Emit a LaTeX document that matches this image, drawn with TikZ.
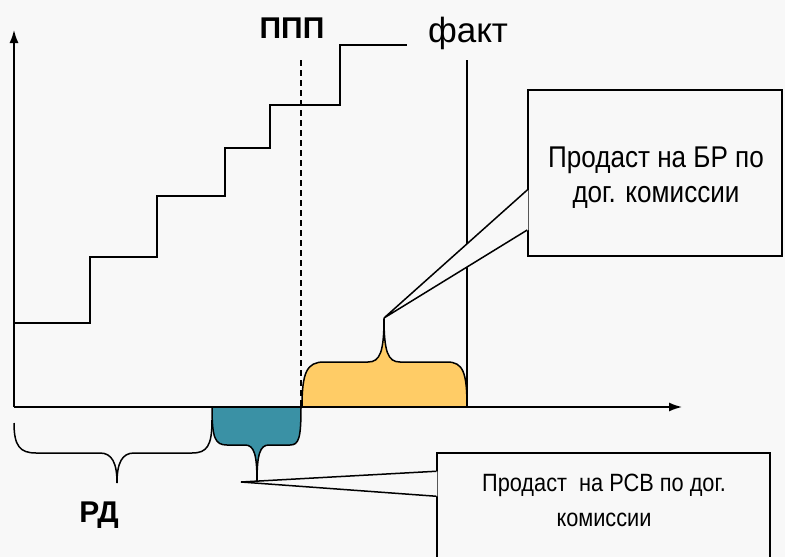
\documentclass[tikz,border=0pt]{standalone}
\usepackage{fontspec}
\setmainfont[FakeStretch=0.87]{Liberation Sans}
\newfontfamily\plainsans{Liberation Sans}
\usetikzlibrary{arrows.meta}
\definecolor{bgcol}{HTML}{F8F8F8}
\definecolor{brfill}{HTML}{FFCC66}
\definecolor{rsvfill}{HTML}{3A91A5}
\tikzset{
  axis/.style={line width=1.5pt,-{Latex[length=13pt,width=9pt]}},
  stair/.style={line width=1.5pt},
  brace/.style={line width=1.5pt},
  callbox/.style={draw,line width=1.5pt,fill=bgcol,inner sep=0pt},
  bigbold/.style={font=\plainsans\fontsize{30}{34}\selectfont\bfseries},
  bigtext/.style={font=\plainsans\fontsize{35}{40}\selectfont},
  brtext/.style={font=\fontsize{30}{35}\selectfont,align=center},
  rsvtext/.style={font=\fontsize{25}{30}\selectfont,align=center},
}

\begin{document}
\begin{tikzpicture}[x=1pt,y=-1pt]
\fill[bgcol] (0,0) rectangle (785,557);
\useasboundingbox (0,0) rectangle (785,557);
\clip (0,0) rectangle (785,557);
\coordinate (O) at (14,407);
\coordinate (Ytop) at (14,30);
\coordinate (Xend) at (682,407);
\coordinate (ppptop) at (301,60);
\coordinate (pppbot) at (301,407);
\coordinate (fakttop) at (467,60);
\coordinate (faktbot) at (467,407);
% labels
\node[bigbold] (ppp) at (292,28) {ППП};
\node[bigtext] (fakt) at (468,33) {факт};
% staircase
\draw[stair] (14,323) -| (90,257) -| (157,196) -| (225,148) -| (270,105)
  -| (340,45) -- (407,45);
\draw[line width=1.2pt,dash pattern=on 6pt off 4pt] (ppptop) -- (pppbot);
\draw[line width=1.5pt] (fakttop) -- (faktbot);
% braces
\coordinate (brtip) at (384,318);
\draw[brace,fill=brfill] (302,407) .. controls (302,372) and (307,362) .. (324,362)
  -- (368,362) .. controls (380,362) and (384,352) .. (brtip)
  .. controls (384,352) and (388,362) .. (400,362)
  -- (447,362) .. controls (463,362) and (467,372) .. (467,407) -- cycle;
\coordinate (rsvtip) at (257,482);
\draw[brace,fill=rsvfill] (212,407) .. controls (212,438) and (215,445) .. (227,445)
  -- (245,445) .. controls (254,445) and (257,454) .. (rsvtip)
  .. controls (257,454) and (260,445) .. (269,445)
  -- (290,445) .. controls (299,445) and (301,438) .. (301,407);
\coordinate (rdtip) at (117,483);
\draw[brace] (14,423) .. controls (14,446) and (20,453) .. (36,453)
  -- (100,453) .. controls (112,453) and (117,463) .. (rdtip)
  .. controls (117,463) and (122,453) .. (134,453)
  -- (192,453) .. controls (207,453) and (212,446) .. (212,420);
\node[bigbold] (rd) at (99,515) {РД};
% axes
\draw[axis] (O) -- (Ytop);
\draw[axis] (O) -- (Xend);
% callouts
\node[callbox,minimum width=254pt,minimum height=166pt] (brbox) at (655,173) {};
\coordinate (brp1) at ([yshift=-17pt]brbox.west);
\coordinate (brp2) at ([yshift=-57pt]brbox.west);
\fill[bgcol] ([xshift=1pt]brp1) -- (brtip) -- ([xshift=1pt]brp2) -- cycle;
\draw[line width=1.5pt] (brp1) -- (brtip) -- (brp2);
\node[brtext] (brlab) at (656,178) {Продаст на БР по\\дог. комиссии};
\node[callbox,minimum width=333pt,minimum height=200pt] (rsvbox) at (603.5,553) {};
\coordinate (rsvp1) at ([yshift=-19pt]rsvbox.north west);
\coordinate (rsvp2) at ([yshift=-44pt]rsvbox.north west);
\coordinate (rsvend) at (241,482);
\fill[bgcol] ([xshift=1pt]rsvp1) -- (rsvend) -- ([xshift=1pt]rsvp2) -- cycle;
\draw[line width=1.5pt] (rsvp1) -- (rsvend) -- (rsvp2);
\node[rsvtext] (rsvlab) at (604,500) {Продаст~ на РСВ по дог.\\[5pt]комиссии};
\end{tikzpicture}
\end{document}
